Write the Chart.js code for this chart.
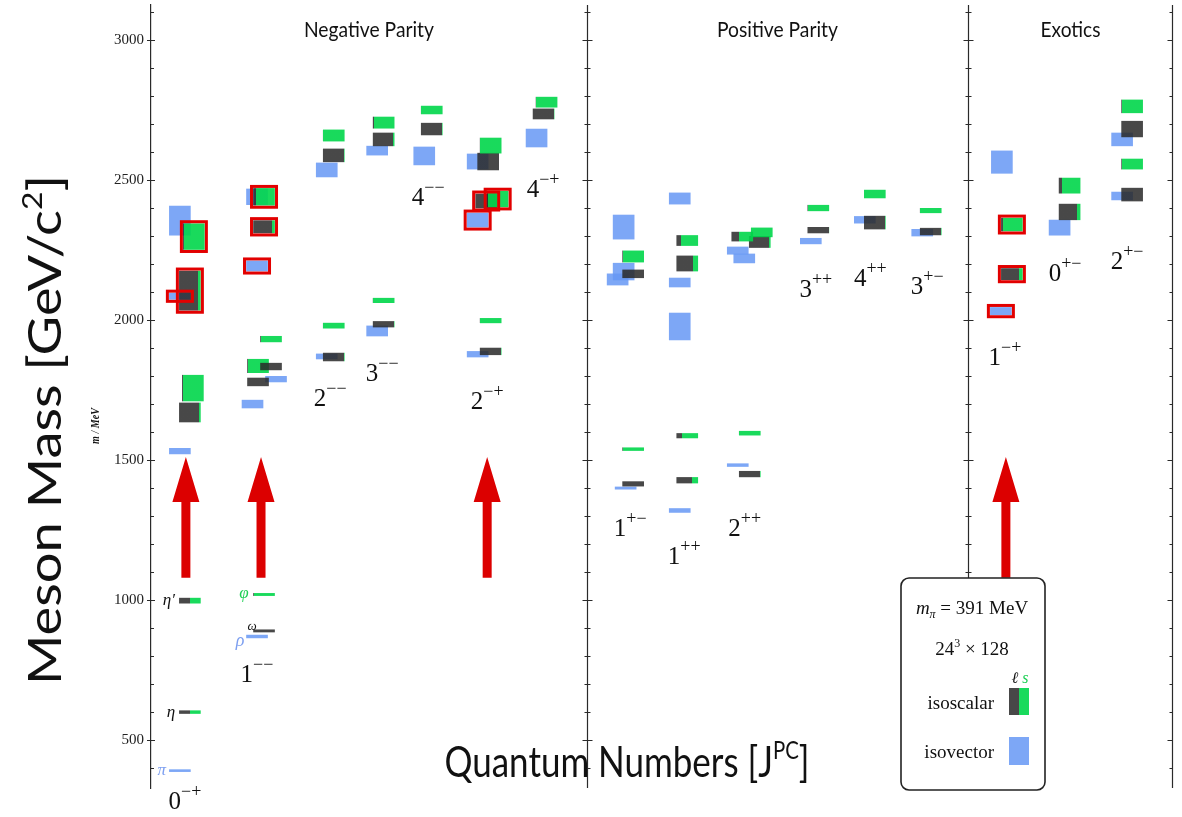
<!DOCTYPE html>
<html>
<head>
<meta charset="utf-8">
<title>Meson spectrum</title>
<script src="https://cdn.jsdelivr.net/npm/chart.js@4.4.1/dist/chart.umd.min.js"></script>
<style>
  html, body { margin: 0; padding: 0; background: #fff; }
  #wrap { width: 1182px; height: 817px; position: relative; }
</style>
</head>
<body>
<div id="wrap"><canvas id="spectrum"></canvas></div>
<script>
// ---- channels (J^PC) and their slots on the x axis ----
const channels = ['0-+','1--','2--','3--','4--','2-+','4-+','1+-','1++','2++','3++','4++','3+-','1-+','0+-','2+-'];
const channelSlot = [0.68, 1.88, 3.04, 3.87, 4.67, 5.65, 6.58, 8.02, 8.92, 9.96, 11.10, 12.04, 12.97, 14.32, 15.28, 16.32];
const sectionTitles = ['Negative Parity', 'Positive Parity', 'Exotics'];
const sectionEdges = [0, 7.25, 13.59, 17];
const massTicks = [500, 1000, 1500, 2000, 2500, 3000];

// ---- isovector states: channel, mass (MeV), half-height uncertainty (MeV), hybrid candidate ----
const isovectorChannel = ['0-+','0-+','0-+','0-+','1--','1--','1--','1--','1--','2--','2--','3--','3--','4--','2-+','2-+','2-+','4-+','1+-','1+-','1+-','1+-','1++','1++','1++','1++','2++','2++','2++','3++','4++','3+-','1-+','1-+','0+-','2+-','2+-'];
const isovectorMass = [391,1532,2085,2355, 870,1700,1789,2193,2440, 1870,2536, 1961,2605, 2586, 1878,2357,2566, 2650, 1400,2145,2173,2332, 1320,1977,2134,2434, 1482,2220,2248, 2282, 2358, 2312, 2032,2564, 2330, 2443,2645];
const isovectorError = [3.5,10,11,52, 5,14,10,18,28, 9,25, 18,16, 32, 10,25,27, 32, 4,20,30,43, 7,48,16,20, 5,16,13, 10, 12, 12, 13,40, 27, 14,23];
const isovectorHybrid = [0,0,1,0, 0,0,0,1,0, 0,0, 0,0, 0, 0,1,0, 0, 0,0,0,0, 0,0,0,0, 0,0,0, 0, 0, 0, 1,0, 0, 0,0];

// ---- isoscalar states: channel, mass, uncertainty, light-quark (ℓ) fraction, hybrid candidate ----
const isoscalarChannel = ['0-+','0-+','0-+','0-+','0-+','0-+','1--','1--','1--','1--','1--','1--','1--','1--','2--','2--','2--','2--','3--','3--','3--','3--','4--','4--','2-+','2-+','2-+','2-+','2-+','2-+','4-+','4-+','1+-','1+-','1+-','1+-','1++','1++','1++','1++','2++','2++','2++','2++','2++','3++','3++','4++','4++','3+-','3+-','1-+','1-+','0+-','0+-','2+-','2+-','2+-','2+-'];
const isoscalarMass = [600,998,1670,1757,2105,2298, 890,1020,1779,1836,1834,1932,2333,2440, 1868,1980,2588,2659, 1985,2070,2645,2705, 2682,2750, 1888,1998,2425,2432,2566,2623, 2736,2778, 1415,1539,2165,2227, 1428,1587,2202,2284, 1450,1596,2279,2298,2313, 2321,2400, 2348,2450, 2316,2391, 2164,2341, 2386,2480, 2448,2557,2682,2763];
const isoscalarError = [5,9,34,46,70,46, 4,4,14,24,12,10,22,30, 14,9,23,20, 10,8,23,20, 21,14, 12,8,25,28,30,27, 18,18, 8,5,14,20, 10,8,27,18, 10,7,20,16,16, 10,10, 23,14, 12,8, 20,23, 28,27, 23,18,28,23];
const isoscalarLight = [0.5,0.5,0.95,0.05,0.9,0.05, 1,0,1,0,1,0,0.9,0.1, 1,0,1,0, 1,0,0.95,0.05, 1,0, 1,0,1,0.05,1,0, 1,0, 1,0,1,0, 0.72,0.24,0.77,0.22, 1,0,0.95,0.35,0, 1,0, 1,0, 1,0, 0.85,0.1, 0.85,0.15, 1,0,1,0];
const isoscalarHybrid = [0,0,0,0,1,1, 0,0,0,0,0,0,1,1, 0,0,0,0, 0,0,0,0, 0,0, 0,0,1,1,0,0, 0,0, 0,0,0,0, 0,0,0,0, 0,0,0,0,0, 0,0, 0,0, 0,0, 1,1, 0,0, 0,0,0,0];

// ---- layout: horizontal placement of boxes inside a channel (pixels) ----
const PLOT_WIDTH = 1022;
const X_MAX = 17;
const PX_UNIT = X_MAX / PLOT_WIDTH;
const BAR_W = 21;
const isovectorChannelShift = [-12,-7,-7,-6.5,-7.5,-13,-10,-9.5,-7.5,-12,-7.5,-10,-8.5,-10,-10,-10];
const isovectorNudge = [0,0,0,0, 0,-4.5,19,0,0, 0,0, 0,0, 0, 0,0,0, 0, 2,-6,0,0, 0,0,0,0, 0,6.5,0, 0, 0, 0, -1,0, 0, 0,0];
const isoscalarNudge = [-2,-2,-2,1,-2,2, 0,0,-6,-6,7,7,0,0, 0,0,0,0, 0,0,0,0, 0,0, 0,0,-4.5,7,-2.5,0, -3,0, 0,0,0,0, 0,0,0,0, 0,0,10,-7.5,12, 0,0, 0,0, 0,0, 0,0, 0,0, 0,0,0,0];

// channel label anchors (MeV) and horizontal nudges (px)
const channelLabelMass = [286, 739, 1725, 1814, 2443, 1714, 2471, 1261, 1161, 1261, 2114, 2154, 2125, 1871, 2171, 2214];
const channelLabelShift = [-7,-7,-3.5,-1.5,-3.5,-3.5,-3.5,-3,-3,-5,-2.5,-4.5,-3.5,-7,-4.5,-5];

// highlighted channels with arrows
const arrowChannels = ['0-+', '1--', '2-+', '1-+'];
const arrowShift = [-6, -3, -3.5, -6];
const ARROW_MASS = { tip: 1511, neck: 1350, tail: 1080 };

const COLOR = {
  light: 'rgba(42,42,42,0.86)',
  strange: 'rgba(0,214,74,0.9)',
  isovector: 'rgba(104,152,244,0.86)',
  hybrid: '#e20000',
  arrow: '#dc0000',
  axis: '#2a2a2a',
  text: '#111'
};

// ground-state particle names next to their levels
const particleLabels = [
  { text: 'π',  ch: '0-+', m: 391,  dx: -30, color: '#7d9ff0', size: 17 },
  { text: 'η',  ch: '0-+', m: 600,  dx: -21, color: COLOR.text, size: 17 },
  { text: 'η′', ch: '0-+', m: 998,  dx: -23, color: COLOR.text, size: 17 },
  { text: 'ρ',  ch: '1--', m: 852,  dx: -24, color: '#7d9ff0', size: 18 },
  { text: 'ω',  ch: '1--', m: 907,  dx: -12, color: COLOR.text, size: 13 },
  { text: 'φ',  ch: '1--', m: 1022, dx: -20, color: '#1fcf55', size: 17 }
];

const chIndex = name => channels.indexOf(name);

const isovectorPoints = isovectorMass.map((m, i) => {
  const c = chIndex(isovectorChannel[i]);
  return {
    x: channelSlot[c] + (isovectorChannelShift[c] + isovectorNudge[i]) * PX_UNIT,
    y: [m - isovectorError[i], m + isovectorError[i]]
  };
});
const isoscalarPoints = isoscalarMass.map((m, i) => {
  const c = chIndex(isoscalarChannel[i]);
  return {
    x: channelSlot[c] + isoscalarNudge[i] * PX_UNIT,
    y: [m - isoscalarError[i], m + isoscalarError[i]]
  };
});

// isoscalar boxes: light part on the left, strange part on the right
function isoscalarFill(ctx) {
  if (ctx.type !== 'data') return COLOR.strange;
  const cx = ctx.chart.scales.x.getPixelForValue(ctx.raw.x);
  if (!isFinite(cx)) return COLOR.strange;
  const f = isoscalarLight[ctx.dataIndex];
  const g = ctx.chart.ctx.createLinearGradient(cx - BAR_W / 2, 0, cx + BAR_W / 2, 0);
  g.addColorStop(0, COLOR.light);
  g.addColorStop(f, COLOR.light);
  g.addColorStop(f, COLOR.strange);
  g.addColorStop(1, COLOR.strange);
  return g;
}

// text made of runs (base text, superscripts, subscripts)
function drawRuns(ctx, runs, x, y, opts = {}) {
  ctx.save();
  ctx.translate(x, y);
  if (opts.rotate) ctx.rotate(opts.rotate);
  let total = 0;
  const widths = runs.map(r => {
    ctx.font = r.font;
    const w = ctx.measureText(r.text).width;
    total += w;
    return w;
  });
  if (opts.width) ctx.scale(opts.width / total, 1);
  let cx = opts.align === 'left' ? 0 : opts.align === 'right' ? -total : -total / 2;
  ctx.textAlign = 'left';
  ctx.textBaseline = 'alphabetic';
  runs.forEach((r, i) => {
    ctx.font = r.font;
    ctx.fillStyle = r.color || opts.color || COLOR.text;
    ctx.fillText(r.text, cx, r.dy || 0);
    cx += widths[i];
  });
  ctx.restore();
}

function drawMassTicks(ctx, ys, x, majorL, majorR, minorL, minorR) {
  ctx.beginPath();
  for (let m = Math.ceil(ys.min / 100) * 100; m <= ys.max; m += 100) {
    const y = Math.round(ys.getPixelForValue(m)) + 0.5;
    const major = m % 500 === 0;
    ctx.moveTo(x - (major ? majorL : minorL), y);
    ctx.lineTo(x + (major ? majorR : minorR), y);
  }
  ctx.stroke();
}

function drawArrow(ctx, x, yTip, yNeck, yTail) {
  ctx.beginPath();
  ctx.moveTo(x, yTip);
  ctx.lineTo(x + 13.5, yNeck);
  ctx.lineTo(x + 4.5, yNeck);
  ctx.lineTo(x + 4.5, yTail);
  ctx.lineTo(x - 4.5, yTail);
  ctx.lineTo(x - 4.5, yNeck);
  ctx.lineTo(x - 13.5, yNeck);
  ctx.closePath();
  ctx.fill();
}

const SERIF = '"Liberation Serif","DejaVu Serif",serif';
const SANS = 'Lato,"Open Sans",sans-serif';

const spectrumDecor = {
  id: 'spectrumDecor',
  afterDatasetsDraw(chart) {
    const ctx = chart.ctx;
    // red frames around hybrid candidates
    ctx.save();
    ctx.strokeStyle = COLOR.hybrid;
    ctx.lineWidth = 3;
    [[1, isovectorHybrid], [0, isoscalarHybrid]].forEach(([di, flags]) => {
      chart.getDatasetMeta(di).data.forEach((el, i) => {
        if (!flags[i]) return;
        const p = el.getProps(['x', 'y', 'base', 'width'], true);
        const top = Math.min(p.y, p.base), h = Math.abs(p.base - p.y);
        ctx.strokeRect(p.x - p.width / 2 - 2, top - 2, p.width + 4, h + 4);
      });
    });
    ctx.restore();
  },
  afterDraw(chart) {
    const ctx = chart.ctx;
    const xs = chart.scales.x, ys = chart.scales.y;
    const ca = chart.chartArea;
    const px = c => xs.getPixelForValue(channelSlot[c]);

    // axis ticks, section dividers and right frame
    ctx.save();
    ctx.strokeStyle = COLOR.axis;
    ctx.lineWidth = 1.2;
    drawMassTicks(ctx, ys, ca.left, 4, 4, 0, 3);
    [sectionEdges[1], sectionEdges[2]].forEach(v => {
      const x = Math.round(xs.getPixelForValue(v)) + 0.5;
      ctx.beginPath(); ctx.moveTo(x, ca.top); ctx.lineTo(x, ca.bottom); ctx.stroke();
      drawMassTicks(ctx, ys, x, 5, 5, 3, 3);
    });
    const xr = Math.round(ca.right) - 0.5;
    ctx.beginPath(); ctx.moveTo(xr, ca.top); ctx.lineTo(xr, ca.bottom); ctx.stroke();
    drawMassTicks(ctx, ys, xr, 5, 0, 3, 0);
    ctx.restore();

    // arrows
    ctx.save();
    ctx.fillStyle = COLOR.arrow;
    arrowChannels.forEach((name, i) => {
      const x = px(chIndex(name)) + arrowShift[i];
      drawArrow(ctx, x, ys.getPixelForValue(ARROW_MASS.tip), ys.getPixelForValue(ARROW_MASS.neck), ys.getPixelForValue(ARROW_MASS.tail));
    });
    ctx.restore();

    // J^PC labels
    channels.forEach((name, c) => {
      const x = px(c) + channelLabelShift[c];
      const y = ys.getPixelForValue(channelLabelMass[c]) + 9;
      drawRuns(ctx, [
        { text: name[0], font: '25px ' + SERIF },
        { text: name.slice(1).replace(/-/g, '\u2212'), font: '18px ' + SERIF, dy: -12 }
      ], x, y);
    });

    // ground-state names
    ctx.save();
    ctx.textAlign = 'center';
    ctx.textBaseline = 'middle';
    particleLabels.forEach(p => {
      ctx.font = 'italic ' + p.size + 'px ' + SERIF;
      ctx.fillStyle = p.color;
      ctx.fillText(p.text, px(chIndex(p.ch)) + p.dx, ys.getPixelForValue(p.m));
    });
    ctx.restore();

    // section titles
    sectionTitles.forEach((t, i) => {
      const x0 = xs.getPixelForValue(sectionEdges[i]), x1 = xs.getPixelForValue(sectionEdges[i + 1]);
      drawRuns(ctx, [{ text: t, font: '22px ' + SANS }], (x0 + x1) / 2, 37, { width: [130, 121, 60][i] });
    });

    // axis titles
    drawRuns(ctx, [
      { text: 'Meson Mass [GeV/c', font: '46px ' + SANS },
      { text: '2', font: '27px ' + SANS, dy: -19 },
      { text: ']', font: '46px ' + SANS }
    ], 61, 430, { rotate: -Math.PI / 2, width: 510 });
    drawRuns(ctx, [
      { text: 'm / MeV', font: 'bold italic 12px ' + SERIF }
    ], 99, 426, { rotate: -Math.PI / 2, width: 36 });
    drawRuns(ctx, [
      { text: 'Quantum Numbers [J', font: '43px ' + SANS },
      { text: 'PC', font: '25px ' + SANS, dy: -18 },
      { text: ']', font: '43px ' + SANS }
    ], 627, 777, { width: 365 });

    // legend box
    const L = { x: ca.left + 750, y: ca.top + 573, w: 144, h: 212, r: 8 };
    ctx.save();
    ctx.fillStyle = '#fff';
    ctx.strokeStyle = '#222';
    ctx.lineWidth = 1.6;
    ctx.beginPath();
    ctx.roundRect(L.x, L.y, L.w, L.h, L.r);
    ctx.fill();
    ctx.stroke();
    ctx.restore();
    const lc = L.x + 71;
    drawRuns(ctx, [
      { text: 'm', font: 'italic 19px ' + SERIF },
      { text: 'π', font: 'italic 12px ' + SERIF, dy: 4 },
      { text: ' = 391 MeV', font: '19px ' + SERIF }
    ], lc, L.y + 36);
    drawRuns(ctx, [
      { text: '24', font: '19px ' + SERIF },
      { text: '3', font: '12px ' + SERIF, dy: -8 },
      { text: ' × 128', font: '19px ' + SERIF }
    ], lc, L.y + 77);
    drawRuns(ctx, [
      { text: 'ℓ', font: 'italic 16px ' + SERIF, color: COLOR.text },
      { text: ' s', font: 'italic 16px ' + SERIF, color: '#1fcf55' }
    ], L.x + 119, L.y + 105);
    drawRuns(ctx, [{ text: 'isoscalar', font: '19px ' + SERIF }], L.x + 93, L.y + 131, { align: 'right' });
    drawRuns(ctx, [{ text: 'isovector', font: '19px ' + SERIF }], L.x + 93, L.y + 180, { align: 'right' });
    ctx.save();
    ctx.fillStyle = COLOR.light;
    ctx.fillRect(L.x + 108, L.y + 110, 10, 27);
    ctx.fillStyle = COLOR.strange;
    ctx.fillRect(L.x + 118, L.y + 110, 10, 27);
    ctx.fillStyle = COLOR.isovector;
    ctx.fillRect(L.x + 108, L.y + 159, 20, 28);
    ctx.restore();
  }
};

new Chart(document.getElementById('spectrum'), {
  type: 'bar',
  data: {
    datasets: [
      {
        label: 'isoscalar',
        data: isoscalarPoints,
        backgroundColor: isoscalarFill,
        borderWidth: 0,
        barThickness: BAR_W,
        grouped: false,
        order: 0
      },
      {
        label: 'isovector',
        data: isovectorPoints,
        backgroundColor: COLOR.isovector,
        borderWidth: 0,
        barThickness: BAR_W,
        grouped: false,
        order: 1
      }
    ]
  },
  options: {
    responsive: true,
    maintainAspectRatio: false,
    animation: false,
    events: [],
    layout: { padding: { left: 0, top: 5, right: 9, bottom: 29 } },
    plugins: {
      legend: { display: false },
      tooltip: { enabled: false }
    },
    scales: {
      x: {
        type: 'linear',
        min: 0,
        max: X_MAX,
        offset: false,
        display: false,
        grid: { offset: false }
      },
      y: {
        type: 'linear',
        min: 329,
        max: 3125,
        beginAtZero: false,
        afterFit(scale) {
          scale.width = 151;
          scale.paddingTop = 0;
          scale.paddingBottom = 0;
        },
        afterBuildTicks(scale) { scale.ticks = massTicks.map(v => ({ value: v })); },
        grid: { display: false, drawTicks: false },
        border: { display: true, color: COLOR.axis, width: 1.2 },
        ticks: {
          padding: 7,
          color: '#222',
          font: { family: SERIF, size: 15 },
          callback: v => String(v)
        }
      }
    }
  },
  plugins: [spectrumDecor]
});
</script>
</body>
</html>
